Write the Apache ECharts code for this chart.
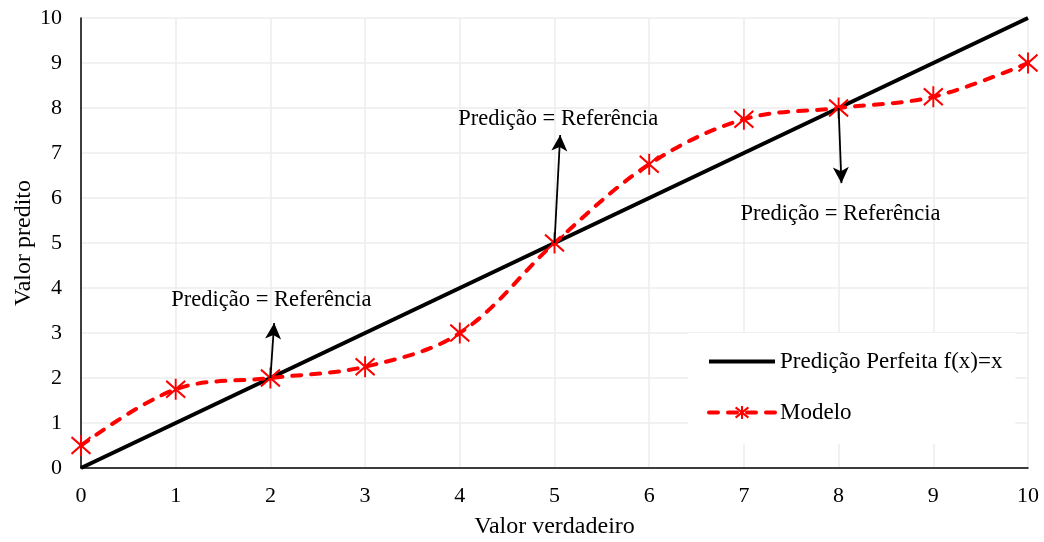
<!DOCTYPE html>
<html>
<head>
<meta charset="utf-8">
<script src="https://cdn.jsdelivr.net/npm/echarts@6/dist/echarts.min.js"></script>
<style>html,body{margin:0;padding:0;background:#fff}#c{width:1044px;height:542px}</style>
</head>
<body>
<div id="c"></div>
<script>
// ---- data ----
const xValues = [0, 1, 2, 3, 4, 5, 6, 7, 8, 9, 10];
const perfectValues = [0, 1, 2, 3, 4, 5, 6, 7, 8, 9, 10];
const modelValues = [0.5, 1.75, 2, 2.25, 3, 5, 6.75, 7.75, 8, 8.25, 9];
const seriesNames = ['Predição Perfeita f(x)=x', 'Modelo'];
const axisTitles = { x: 'Valor verdadeiro', y: 'Valor predito' };
const annotationText = 'Predição = Referência';
// arrows in data coordinates: [start, end]
const arrowStarts = [[2, 2], [5, 5], [8, 8]];
const arrowEnds = [[2.04, 3.22], [5.06, 7.4], [8.03, 6.33]];
// annotation label anchors in data coordinates
const labelAnchors = [[2.01, 3.73], [5.04, 7.76], [8.02, 5.64]];

const FONT = '"Liberation Serif", "Times New Roman", serif';
const asterisk = 'path://M1,2L17,18M17,2L1,18M9,0L9,20';

const chart = echarts.init(document.getElementById('c'));
chart.setOption({
  animation: false,
  backgroundColor: '#fff',
  textStyle: { fontFamily: FONT, color: '#000' },
  grid: { left: 81, right: 16, top: 18, bottom: 74, containLabel: false, outerBoundsMode: 'none' },
  xAxis: {
    type: 'value', min: 0, max: 10, interval: 1,
    name: axisTitles.x, nameLocation: 'middle', nameGap: 47,
    nameTextStyle: { fontFamily: FONT, fontSize: 24, color: '#000' },
    axisLine: { show: true, lineStyle: { color: '#000', width: 1.5 } },
    axisTick: { show: false },
    axisLabel: { fontFamily: FONT, fontSize: 22, color: '#000', margin: 17 },
    splitLine: { show: true, lineStyle: { color: '#ececec', width: 1.5 } }
  },
  yAxis: {
    type: 'value', min: 0, max: 10, interval: 1,
    name: axisTitles.y, nameLocation: 'middle', nameGap: 45, nameMoveOverlap: false,
    nameTextStyle: { fontFamily: FONT, fontSize: 24, color: '#000' },
    axisLine: { show: true, lineStyle: { color: '#000', width: 1.5 } },
    axisTick: { show: false },
    axisLabel: { fontFamily: FONT, fontSize: 22, color: '#000', margin: 19 },
    splitLine: { show: true, lineStyle: { color: '#ececec', width: 1.5 } }
  },
  legend: {
    data: [
      { name: seriesNames[0], itemStyle: { opacity: 0 }, lineStyle: { width: 4, color: '#000' } },
      { name: seriesNames[1], lineStyle: { width: 4, color: '#ff0000', type: [9, 10], cap: 'round' } }
    ],
    orient: 'vertical',
    left: 688, top: 333,
    backgroundColor: '#fff',
    padding: [17, 13, 20, 19],
    itemGap: 28,
    itemWidth: 66, itemHeight: 16,
    textStyle: { fontFamily: FONT, fontSize: 23, color: '#000' }
  },
  series: [
    {
      name: seriesNames[0], type: 'line',
      data: xValues.map((x, i) => [x, perfectValues[i]]),
      symbol: 'none',
      lineStyle: { color: '#000', width: 4 },
      itemStyle: { color: '#000' },
      z: 2,
      markLine: {
        silent: true,
        symbol: ['none', 'arrow'],
        symbolSize: [12, 16],
        label: { show: false },
        lineStyle: { color: '#000', width: 1.8, type: 'solid' },
        data: arrowStarts.map((s, i) => [{ coord: s }, { coord: arrowEnds[i] }])
      }
    },
    {
      name: seriesNames[1], type: 'line',
      data: xValues.map((x, i) => [x, modelValues[i]]),
      smooth: 0.35,
      symbol: asterisk, symbolSize: [19, 21],
      lineStyle: { color: '#ff0000', width: 4, type: [9, 10], cap: 'round' },
      itemStyle: { color: '#ff0000', borderColor: '#ff0000', borderWidth: 2 },
      z: 3
    },
    {
      name: 'annotations', type: 'scatter',
      data: labelAnchors,
      symbolSize: 0,
      silent: true,
      itemStyle: { opacity: 1 },
      label: {
        show: true, position: 'inside', formatter: annotationText,
        fontFamily: FONT, fontSize: 22.5, color: '#000', opacity: 1
      },
      z: 4
    }
  ]
});
</script>
</body>
</html>
